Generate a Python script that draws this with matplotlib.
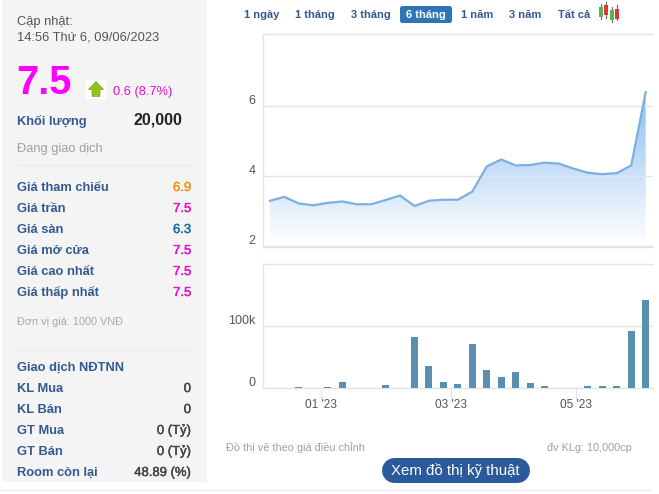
import matplotlib
matplotlib.use("Agg")
import matplotlib.pyplot as plt
import matplotlib.patheffects as pe
import numpy as np
from matplotlib.patches import Rectangle, FancyBboxPatch, Polygon
from matplotlib.colors import LinearSegmentedColormap
from matplotlib.transforms import ScaledTranslation

plt.rcParams['font.family'] = ['Liberation Sans', 'DejaVu Sans']

price = [3.30, 3.41, 3.22, 3.17, 3.24, 3.28, 3.20, 3.20, 3.32, 3.45, 3.15, 3.30, 3.33, 3.33,
         3.56, 4.28, 4.48, 4.31, 4.32, 4.39, 4.36, 4.22, 4.10, 4.06, 4.09, 4.31, 6.40]
volume = [0, 0, 2000, 0, 2000, 10000, 0, 0, 5000, 0, 83000, 36000, 10000, 7000,
          71500, 30000, 18000, 26000, 8500, 4000, 0, 0, 4000, 4000, 4000, 92000, 142000]
price_ticks = [2, 4, 6]
volume_ticks = [0, 100000]
volume_labels = ['0', '100k']
date_pos = [3.55, 12.55, 21.15]
date_labels = ["01 '23", "03 '23", "05 '23"]
ranges = ['1 ngày', '1 tháng', '3 tháng', '6 tháng', '1 năm', '3 năm', 'Tất cả']
info_rows = [('Giá tham chiếu', '6.9', '#f7931e'), ('Giá trần', '7.5', '#e60fd5'),
             ('Giá sàn', '6.3', '#1f6f9f'), ('Giá mở cửa', '7.5', '#e60fd5'),
             ('Giá cao nhất', '7.5', '#e60fd5'), ('Giá thấp nhất', '7.5', '#e60fd5')]
foreign_rows = [('KL Mua', '0'), ('KL Bán', '0'), ('GT Mua', '0 (Tỷ)'),
                ('GT Bán', '0 (Tỷ)'), ('Room còn lại', '48.89 (%)')]

W, H = 659, 494
NAVY = '#34598f'
GRID = '#e1e5ea'
fig = plt.figure(figsize=(W / 100, H / 100), dpi=100, facecolor='white')

def axes_px(l, t, r, b):
    return fig.add_axes([l / W, 1 - b / H, (r - l) / W, (b - t) / H])

bg = fig.add_axes([0, 0, 1, 1], zorder=0)
bg.set_xlim(0, W); bg.set_ylim(H, 0); bg.axis('off')

def semibold(t, col):
    t.set_path_effects([pe.withStroke(linewidth=0.3, foreground=col)])

bg.add_patch(Rectangle((2, 0), 205, 482, fc='#f4f4f5', ec='none'))
bg.plot([0, 650], [490, 490], color='#eceef0', lw=1)
bg.text(17, 25, 'Cập nhật:', fontsize=9.3, color='#555555', va='baseline')
bg.text(17, 40, '14:56 Thứ 6, 09/06/2023', fontsize=9.3, color='#555555', va='baseline')
bg.text(16.5, 93.5, '7.5', fontsize=28.5, color='#ff00ff', weight='bold', va='baseline')
bg.add_patch(Rectangle((86, 80), 20, 19, fc='white', ec='none'))
bg.add_patch(Polygon([(96, 81.5), (103.5, 89.5), (100, 89.5), (100, 96.5), (92, 96.5), (92, 89.5), (88.5, 89.5)],
                     fc='#8fc31f', ec='#7aa81a', lw=0.5))
bg.text(113, 94.5, '0.6 (8.7%)', fontsize=9.3, color='#e60fd5', va='baseline')
bg.text(17, 125, 'Khối lượng', fontsize=9.3, color=NAVY, weight='bold', va='baseline')
bg.text(182, 124, '20,000', fontsize=11.6, color='#222222', weight='bold', va='baseline', ha='right')
bg.text(17, 152, 'Đang giao dịch', fontsize=9.25, color='#a0a0a0', va='baseline')
bg.plot([17, 192], [165, 165], color='#eeeeee', lw=1)
for i, (lab, val, col) in enumerate(info_rows):
    y = 191 + i * 21
    bg.text(17, y, lab, fontsize=9.3, color=NAVY, weight='bold', va='baseline')
    semibold(bg.text(191, y, val, fontsize=9.4, color=col, va='baseline', ha='right'), col)
bg.text(17, 325, 'Đơn vị giá: 1000 VNĐ', fontsize=7.85, color='#a8a8a8', va='baseline')
bg.plot([17, 192], [350, 350], color='#eeeeee', lw=1)
bg.text(17, 371, 'Giao dịch NĐTNN', fontsize=9.3, color=NAVY, weight='bold', va='baseline')
for i, (lab, val) in enumerate(foreign_rows):
    y = 392 + i * 21
    bg.text(17, y, lab, fontsize=9.3, color=NAVY, weight='bold', va='baseline')
    semibold(bg.text(191, y, val, fontsize=9.4, color='#444444', va='baseline', ha='right'), '#444444')

# range selector
range_x = [262, 315, 370.5, 425.5, 477.5, 525.5, 574]
bg.add_patch(FancyBboxPatch((400, 6), 52, 17, boxstyle='round,pad=0,rounding_size=2.5', fc='#2e75b6', ec='none'))
for i, (lab, x) in enumerate(zip(ranges, range_x)):
    sel = i == 3
    bg.text(x, 18.5, lab, fontsize=8, ha='center', va='baseline', weight='bold',
            color='white' if sel else NAVY)
# candlestick icon
for x, t, b, wt, wb, c in [(601, 7, 17, 4, 19, '#55b848'), (606.2, 5, 15, 2, 18, '#d9363e'),
                           (611.8, 10, 20, 7, 22, '#55b848'), (617, 9, 19, 5, 20, '#d9363e')]:
    bg.plot([x, x], [wt, wb], color='#666666', lw=0.8)
    bg.add_patch(Rectangle((x - 2, t), 4, b - t, fc=c, ec='none', zorder=3))

# footer
bg.text(225.5, 450.5, 'Đồ thị vẽ theo giá điều chỉnh', fontsize=7.9, color='#a0a0a0', va='baseline')
bg.text(631.5, 450.5, 'đv KLg: 10,000cp', fontsize=7.85, color='#a0a0a0', va='baseline', ha='right')
bg.plot([393.5, 516.5], [469.5, 469.5], color='#2a5a9c', lw=25 * 0.72, solid_capstyle='round')
bg.text(455, 475, 'Xem đồ thị kỹ thuật', fontsize=10.8, color='white', ha='center', va='baseline')

x = np.arange(len(price))
px_per_idx = (645.7 - 270) / 26
xl = (262.7 - 270) / px_per_idx
xr = (653 - 270) / px_per_idx

def shift_labels(a, dy_px):
    off = ScaledTranslation(0, dy_px / 100, fig.dpi_scale_trans)
    for lab in a.get_yticklabels():
        lab.set_va('bottom')
        lab.set_transform(lab.get_transform() + off)

# price chart
ax = axes_px(262.7, 34.5, 653, 247.3)
ax.set_xlim(xl, xr)
ax.set_ylim(1.97, 8.05)
ymax = max(price)
cmap = LinearSegmentedColormap.from_list('g', ['#ffffff', '#8dbdf0'])
im = ax.imshow(np.linspace(1, 0, 256).reshape(-1, 1), extent=[x[0], x[-1], 2.05, ymax], aspect='auto',
               cmap=cmap, vmin=0, vmax=1, zorder=1, origin='upper')
clip = Polygon(np.column_stack([np.r_[x, x[-1], x[0]], np.r_[price, 2.05, 2.05]]), transform=ax.transData,
               fc='none', ec='none')
ax.add_patch(clip)
im.set_clip_path(clip)
ax.set_xlim(xl, xr)
ax.set_ylim(1.97, 8.05)
ax.plot(x, price, color='#7cafe2', lw=1.6, zorder=3)
ax.set_yticks(price_ticks)
ax.set_yticklabels([str(t) for t in price_ticks], fontsize=9, color='#555555')
ax.tick_params(axis='y', length=0, pad=5)
shift_labels(ax, -1)
ax.set_xticks([])
ax.grid(axis='y', color=GRID, lw=1, zorder=0)
ax.set_axisbelow(False)
ax.spines['right'].set_visible(False)
for s in ['left', 'top', 'bottom']:
    ax.spines[s].set_color(GRID)
    ax.spines[s].set_linewidth(1)

# volume chart
av = axes_px(262.7, 263.7, 653, 388.3)
av.set_xlim(xl, xr)
av.set_ylim(0, 201000)
av.bar(x, volume, width=7 / px_per_idx, color='#5a8fb0', zorder=3)
av.set_yticks(volume_ticks)
av.set_yticklabels(volume_labels, fontsize=9, color='#555555')
av.tick_params(axis='y', length=0, pad=5)
shift_labels(av, -1)
av.set_xticks(date_pos)
av.set_xticklabels(date_labels, fontsize=8.6, color='#555555')
av.tick_params(axis='x', length=8, color=GRID, pad=0)
av.grid(axis='y', color=GRID, lw=1, zorder=0)
av.spines['right'].set_visible(False)
for s in ['left', 'top', 'bottom']:
    av.spines[s].set_color(GRID)
    av.spines[s].set_linewidth(1)

fig.savefig('out.png', dpi=100)
